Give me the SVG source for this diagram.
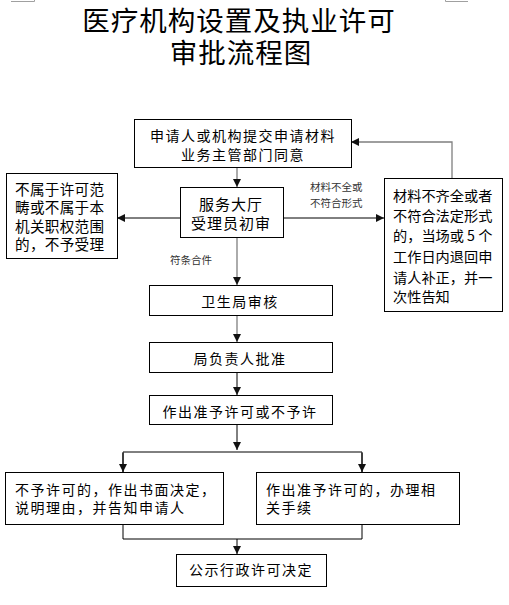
<svg xmlns="http://www.w3.org/2000/svg" width="509" height="605" viewBox="0 0 509 605">
<style>
.box{fill:#fff;stroke:#000;stroke-width:1}
.t{font-family:"Noto Sans CJK SC","Noto Sans CJK JP",sans-serif;font-size:14px;fill:#000;letter-spacing:1.5px}
.tl{font-family:"Noto Sans CJK SC","Noto Sans CJK JP",sans-serif;font-size:14.6px;fill:#000;letter-spacing:0.3px}
.tc{font-family:"Noto Sans CJK SC","Noto Sans CJK JP",sans-serif;font-size:15px;fill:#000;letter-spacing:1px}
.tr{font-family:"Noto Sans CJK SC","Noto Sans CJK JP",sans-serif;font-size:14.2px;fill:#000}
.lab{font-family:"Noto Sans CJK SC","Noto Sans CJK JP",sans-serif;font-size:10.5px;fill:#333}
.title{font-family:"Noto Sans CJK SC","Noto Sans CJK JP",sans-serif;font-size:27.5px;fill:#000;letter-spacing:1px}
.g{stroke:#7f7f7f;stroke-width:1.3;fill:none}
.k{stroke:#000;stroke-width:1;fill:none}
.mark{stroke:#a0a0a0;stroke-width:1;fill:none}
</style>
<defs>
<marker id="ah" viewBox="0 0 8 8" refX="8" refY="4" markerWidth="8" markerHeight="8" markerUnits="userSpaceOnUse" orient="auto">
<path d="M0,0 L8,4 L0,8 Z" fill="#111"/>
</marker>
</defs>
<rect width="509" height="605" fill="#fff"/>
<path class="mark" d="M11,1.5 H34.5 V0"/>
<path class="mark" d="M468,1.5 H445.5 V0"/>
<g id="title">
<text class="title" text-anchor="middle"><tspan x="239" y="31">医疗机构设置及执业许可</tspan><tspan x="241" y="63">审批流程图</tspan></text>
</g>
<g id="connectors">
<line class="g" x1="237" y1="167" x2="237" y2="187" marker-end="url(#ah)"/>
<line class="k" x1="180" y1="218" x2="117" y2="218" marker-end="url(#ah)"/>
<line class="k" x1="283" y1="218" x2="384" y2="218" marker-end="url(#ah)"/>
<polyline class="g" points="452,178 452,142 351,142" marker-end="url(#ah)"/>
<line class="g" x1="237" y1="237" x2="237" y2="285" marker-end="url(#ah)"/>
<line class="g" x1="237" y1="315" x2="237" y2="342" marker-end="url(#ah)"/>
<line class="k" x1="237" y1="372" x2="237" y2="395" marker-end="url(#ah)"/>
<line class="k" x1="237" y1="424" x2="237" y2="450" marker-end="url(#ah)"/>
<polyline class="k" points="123,472 123,452 362,452 362,472"/>
<line class="k" x1="123" y1="453" x2="123" y2="472" marker-end="url(#ah)"/>
<line class="k" x1="362" y1="453" x2="362" y2="472" marker-end="url(#ah)"/>
<polyline class="k" points="123,524 123,539 362,539 362,524"/>
<line class="k" x1="237" y1="539" x2="237" y2="554" marker-end="url(#ah)"/>
<text class="lab"><tspan x="310" y="191">材料不全或</tspan><tspan x="310" y="207">不符合形式</tspan></text>
<text class="lab" x="170" y="264">符条合件</text>
</g>
<g id="n1">
<rect class="box" x="134.5" y="119.5" width="217" height="48"/>
<text class="t" text-anchor="middle"><tspan x="243" y="141">申请人或机构提交申请材料</tspan><tspan x="243" y="160">业务主管部门同意</tspan></text>
</g>
<g id="n2">
<rect class="box" x="180.5" y="187.5" width="103" height="50"/>
<text class="tc" text-anchor="middle"><tspan x="231" y="210">服务大厅</tspan><tspan x="231" y="229">受理员初审</tspan></text>
</g>
<g id="n_left">
<rect class="box" x="6.5" y="173.5" width="111" height="85"/>
<text class="tl"><tspan x="15" y="195">不属于许可范</tspan><tspan x="15" y="213">畴或不属于本</tspan><tspan x="15" y="232">机关职权范围</tspan><tspan x="15" y="250">的，不予受理</tspan></text>
</g>
<g id="n_right">
<rect class="box" x="384.5" y="178.5" width="118" height="133"/>
<text class="tr"><tspan x="393" y="201">材料不齐全或者</tspan><tspan x="393" y="221">不符合法定形式</tspan><tspan x="393" y="241">的，当场或 5 个</tspan><tspan x="393" y="262">工作日内退回申</tspan><tspan x="393" y="283">请人补正，并一</tspan><tspan x="393" y="302">次性告知</tspan></text>
</g>
<g id="n3">
<rect class="box" x="149.5" y="285.5" width="183" height="30"/>
<text class="t" x="240" y="307" text-anchor="middle">卫生局审核</text>
</g>
<g id="n4">
<rect class="box" x="149.5" y="342.5" width="183" height="30"/>
<text class="t" x="240" y="364" text-anchor="middle">局负责人批准</text>
</g>
<g id="n5">
<rect class="box" x="149.5" y="395.5" width="183" height="29"/>
<text class="t" x="240" y="417" text-anchor="middle">作出准予许可或不予许</text>
</g>
<g id="n6">
<rect class="box" x="5.5" y="472.5" width="218" height="52"/>
<text class="t"><tspan x="15" y="495">不予许可的，作出书面决定，</tspan><tspan x="15" y="513">说明理由，并告知申请人</tspan></text>
</g>
<g id="n7">
<rect class="box" x="256.5" y="472.5" width="203" height="52"/>
<text class="t"><tspan x="266" y="495">作出准予许可的，办理相</tspan><tspan x="266" y="513">关手续</tspan></text>
</g>
<g id="n8">
<rect class="box" x="176.5" y="554.5" width="150" height="32"/>
<text class="t" x="251" y="575" text-anchor="middle">公示行政许可决定</text>
</g>
</svg>
